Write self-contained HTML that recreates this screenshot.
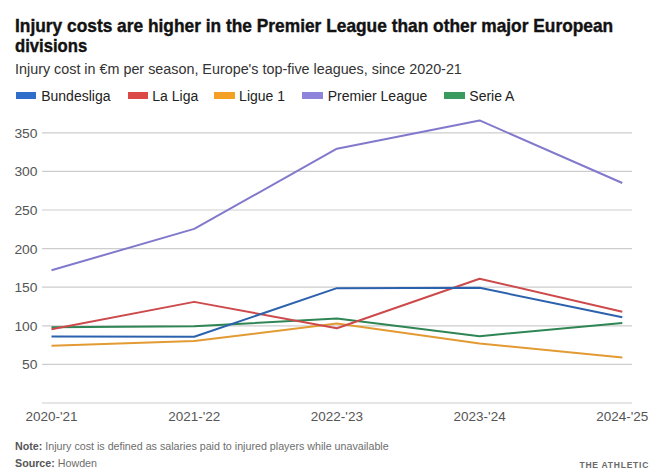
<!DOCTYPE html>
<html><head><meta charset="utf-8">
<style>
html,body{margin:0;padding:0;background:#fff;}
body{width:660px;height:476px;position:relative;overflow:hidden;font-family:"Liberation Sans",sans-serif;}
.t{position:absolute;white-space:nowrap;}
.title{left:15px;font-size:18.5px;line-height:18.5px;font-weight:bold;color:#121212;-webkit-text-stroke:0.4px #121212;transform-origin:0 0;transform:scaleX(0.937);}
.sub{left:15px;top:61.9px;font-size:14.35px;line-height:14.35px;color:#333;transform-origin:0 0;}
.sw{position:absolute;top:92px;width:20.6px;height:7px;}
.lg{position:absolute;top:88.95px;font-size:14px;line-height:14px;color:#222;white-space:nowrap;}
.yl{position:absolute;left:0;width:37.5px;text-align:right;font-size:13.2px;line-height:13.2px;color:#555;transform-origin:100% 50%;transform:scaleX(1.05);}
.xl{position:absolute;top:409.6px;width:100px;text-align:center;font-size:13.5px;line-height:13.5px;color:#555;}
.note{position:absolute;left:15px;font-size:10.7px;line-height:10.7px;color:#6e6e6e;white-space:nowrap;}
.note b{color:#555;}
.brand{position:absolute;right:10.6px;top:459.8px;font-size:9.7px;line-height:9.7px;font-weight:bold;letter-spacing:0.85px;color:#6a6a6a;white-space:nowrap;transform-origin:100% 50%;transform:scaleX(0.88);}
svg{position:absolute;left:0;top:0;}
</style></head><body>
<div class="t title" style="top:17.3px">Injury costs are higher in the Premier League than other major European</div>
<div class="t title" style="top:37.2px;transform:scaleX(0.9)">divisions</div>
<div class="t sub">Injury cost in €m per season, Europe's top-five leagues, since 2020-21</div>
<div class="sw" style="left:15.8px;background:#2f6fca"></div><div class="lg" style="left:41.2px">Bundesliga</div>
<div class="sw" style="left:127.5px;background:#dc4a48"></div><div class="lg" style="left:152.3px">La Liga</div>
<div class="sw" style="left:214.4px;background:#f4a024"></div><div class="lg" style="left:239.1px">Ligue 1</div>
<div class="sw" style="left:302.4px;background:#8e84dc"></div><div class="lg" style="left:327.7px">Premier League</div>
<div class="sw" style="left:444.3px;background:#3b9a5e"></div><div class="lg" style="left:469.3px">Serie A</div>

<svg width="660" height="476" viewBox="0 0 660 476">
<line x1="42" x2="632" y1="403.00" y2="403.00" stroke="#cdcdcd" stroke-width="1.2"/>
<line x1="42" x2="632" y1="364.40" y2="364.40" stroke="#cdcdcd" stroke-width="1.2"/>
<line x1="42" x2="632" y1="325.80" y2="325.80" stroke="#cdcdcd" stroke-width="1.2"/>
<line x1="42" x2="632" y1="287.20" y2="287.20" stroke="#cdcdcd" stroke-width="1.2"/>
<line x1="42" x2="632" y1="248.60" y2="248.60" stroke="#cdcdcd" stroke-width="1.2"/>
<line x1="42" x2="632" y1="210.00" y2="210.00" stroke="#cdcdcd" stroke-width="1.2"/>
<line x1="42" x2="632" y1="171.40" y2="171.40" stroke="#cdcdcd" stroke-width="1.2"/>
<line x1="42" x2="632" y1="132.80" y2="132.80" stroke="#cdcdcd" stroke-width="1.2"/>
<polyline points="51.50,327.19 194.20,326.26 336.90,318.54 479.60,336.14 622.30,322.94" fill="none" stroke="#2f8553" stroke-width="2" stroke-linejoin="round" stroke-linecap="butt"/>
<polyline points="51.50,270.22 194.20,228.91 336.90,148.70 479.60,120.45 622.30,182.98" fill="none" stroke="#8179cc" stroke-width="2" stroke-linejoin="round" stroke-linecap="butt"/>
<polyline points="51.50,345.72 194.20,340.93 336.90,323.56 479.60,343.48 622.30,357.61" fill="none" stroke="#e39a33" stroke-width="2" stroke-linejoin="round" stroke-linecap="butt"/>
<polyline points="51.50,329.27 194.20,301.87 336.90,328.27 479.60,278.79 622.30,311.67" fill="none" stroke="#cc4a4c" stroke-width="2" stroke-linejoin="round" stroke-linecap="butt"/>
<polyline points="51.50,336.61 194.20,336.76 336.90,288.13 479.60,287.82 622.30,317.23" fill="none" stroke="#2c62ad" stroke-width="2" stroke-linejoin="round" stroke-linecap="butt"/>
</svg>
<div class="yl" style="top:358.30px">50</div>
<div class="yl" style="top:319.70px">100</div>
<div class="yl" style="top:281.10px">150</div>
<div class="yl" style="top:242.50px">200</div>
<div class="yl" style="top:203.90px">250</div>
<div class="yl" style="top:165.30px">300</div>
<div class="yl" style="top:126.70px">350</div>
<div class="xl" style="left:1.50px">2020-'21</div>
<div class="xl" style="left:144.20px">2021-'22</div>
<div class="xl" style="left:286.90px">2022-'23</div>
<div class="xl" style="left:429.60px">2023-'24</div>
<div class="xl" style="left:572.30px">2024-'25</div>

<div class="note" style="top:440.7px"><b>Note:</b> Injury cost is defined as salaries paid to injured players while unavailable</div>
<div class="note" style="top:458.3px"><b>Source:</b> Howden</div>
<div class="brand">THE ATHLETIC</div>
</body></html>
